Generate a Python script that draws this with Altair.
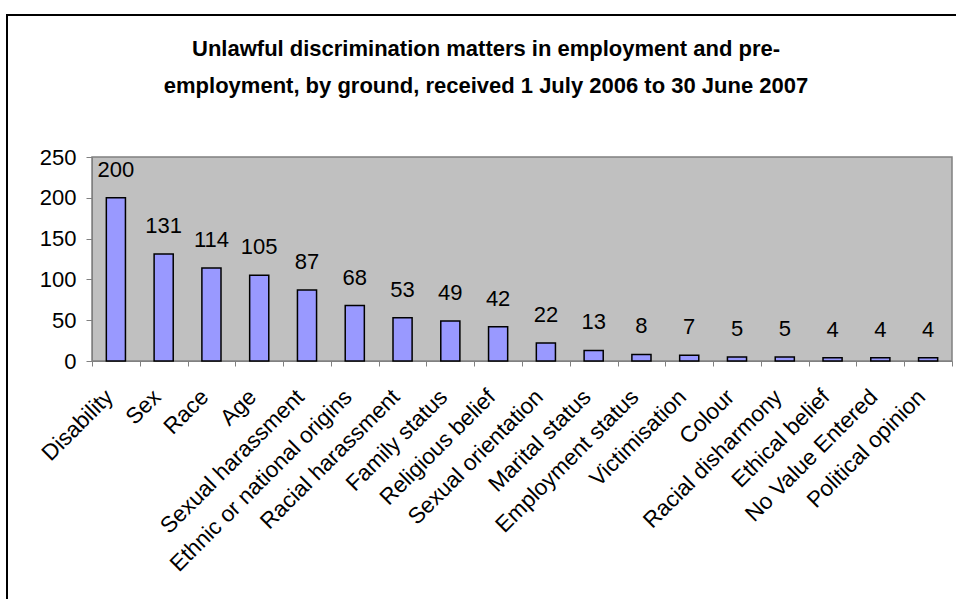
import altair as alt
import pandas as pd

categories = ["Disability", "Sex", "Race", "Age", "Sexual harassment",
              "Ethnic or national origins", "Racial harassment", "Family status",
              "Religious belief", "Sexual orientation", "Marital status",
              "Employment status", "Victimisation", "Colour", "Racial disharmony",
              "Ethical belief", "No Value Entered", "Political opinion"]
values = [200, 131, 114, 105, 87, 68, 53, 49, 42, 22, 13, 8, 7, 5, 5, 4, 4, 4]
y_ticks = [0, 50, 100, 150, 200, 250]
title_lines = ["Unlawful discrimination matters in employment and pre-",
               "employment, by ground, received 1 July 2006 to 30 June 2007"]

df = pd.DataFrame({"ground": categories, "count": values})
FONT = "Liberation Sans"

x_enc = alt.X("ground:N", sort=categories, title=None,
              scale=alt.Scale(paddingInner=0, paddingOuter=0),
              axis=alt.Axis(labelAngle=-45, labelAlign="right", labelBaseline="middle",
                            labelFont=FONT, labelFontSize=22.5, labelColor="black",
                            labelPadding=27, labelOffset=-7, tickBand="extent",
                            tickSize=5, tickColor="#808080", domainColor="#808080",
                            labelOverlap=False, labelLimit=400))
y_enc = alt.Y("count:Q", title=None,
              scale=alt.Scale(domain=[0, 250], nice=False),
              axis=alt.Axis(values=y_ticks, grid=False, labelFont=FONT, labelFontSize=22,
                            labelColor="black", labelPadding=10, tickSize=6,
                            tickColor="#808080", domainColor="#808080"))

base = alt.Chart(df)
bars = base.mark_bar(color="#9999FF", stroke="black", strokeWidth=1.5,
                     width=alt.RelativeBandSize(0.4)).encode(x=x_enc, y=y_enc)
labels = base.mark_text(font=FONT, fontSize=22, color="black", baseline="alphabetic",
                        dy=-21).encode(x=alt.X("ground:N", sort=categories),
                                       y=alt.Y("count:Q"), text="count:Q")
frame = alt.Chart(pd.DataFrame({"a": [0]})).mark_rect(
    fill="white", fillOpacity=0, stroke="black", strokeWidth=2).encode(
    x=alt.value(-85), y=alt.value(-142), x2=alt.value(1100), y2=alt.value(800))

chart = alt.layer(frame, bars, labels).properties(
    width=860, height=204,
    autosize=alt.AutoSizeParams(type="none"),
    padding={"left": 92, "top": 157, "right": 4, "bottom": 238},
    view=alt.ViewBackground(fill="#C0C0C0", stroke="#808080", strokeWidth=1.5),
    title=alt.TitleParams(text=title_lines, font=FONT, fontSize=22, fontWeight="bold",
                          anchor="middle", dx=-36, offset=-84, lineHeight=37, color="black"),
).configure(background="white")

chart.save("out.html", embed_options={"renderer": "svg", "actions": False})
